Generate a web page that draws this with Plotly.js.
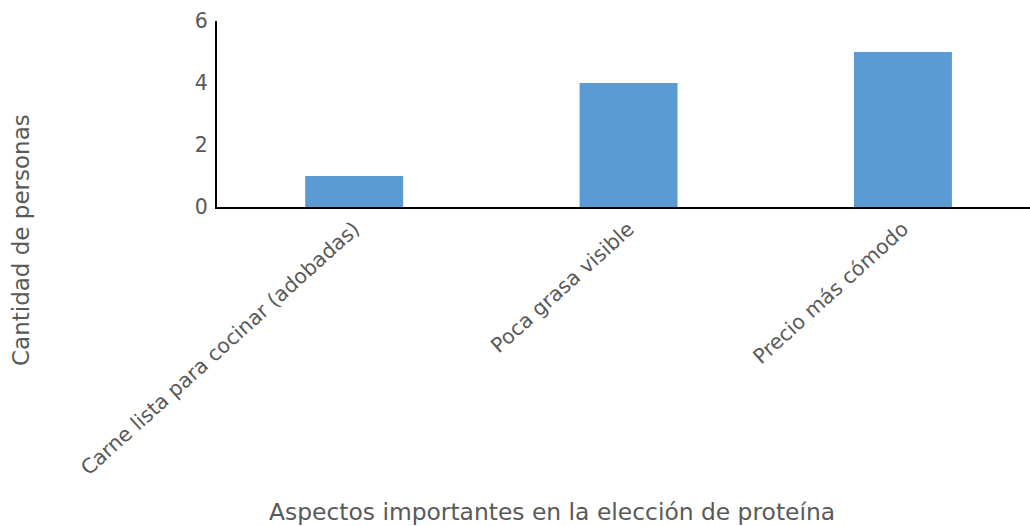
<!DOCTYPE html>
<html>
<head>
<meta charset="utf-8">
<script src="https://cdn.plot.ly/plotly-3.0.1.min.js"></script>
<style>
html,body{margin:0;padding:0;background:#fff;}
#chart{width:1030px;height:526px;}
</style>
</head>
<body>
<div id="chart"></div>
<script>
const categories = ["Carne lista para cocinar (adobadas)", "Poca grasa visible", "Precio más cómodo"];
const personas = [1, 4, 5];
const yTickVals = [0, 2, 4, 6];
const xTitle = "Aspectos importantes en la elección de proteína";
const yTitle = "Cantidad de personas";

const FONT = "DejaVu Sans";
const GREY = "#595959";

const trace = {
  type: "bar",
  x: categories,
  y: personas,
  marker: {color: "#5b9bd5"},
  hoverinfo: "x+y"
};

const layout = {
  width: 1030,
  height: 526,
  margin: {l: 217, r: 0, t: 21, b: 319},
  paper_bgcolor: "#fff",
  plot_bgcolor: "#fff",
  showlegend: false,
  bargap: 0.643,
  font: {family: FONT, color: GREY, size: 20.5},
  xaxis: {
    type: "category",
    range: [-0.5, 2.463],
    showline: true,
    linecolor: "#000",
    linewidth: 2,
    showgrid: false,
    zeroline: false,
    ticks: "",
    tickangle: -42,
    tickfont: {family: FONT, color: GREY, size: 20.5}
  },
  yaxis: {
    range: [0, 6],
    tickvals: yTickVals,
    ticktext: yTickVals.map(String),
    showline: true,
    linecolor: "#000",
    linewidth: 2,
    showgrid: false,
    zeroline: false,
    ticks: "outside",
    ticklen: 3,
    tickcolor: "rgba(0,0,0,0)",
    tickfont: {family: FONT, color: GREY, size: 20.5}
  },
  annotations: [
    {
      text: xTitle,
      xref: "paper", yref: "paper",
      x: (552 - 217) / 813, y: (207 - 512) / 186,
      xanchor: "center", yanchor: "middle",
      showarrow: false,
      font: {family: FONT, color: GREY, size: 23.4}
    },
    {
      text: yTitle,
      xref: "paper", yref: "paper",
      x: (21 - 217) / 813, y: (207 - 240) / 186,
      xanchor: "center", yanchor: "middle",
      textangle: -90,
      showarrow: false,
      font: {family: FONT, color: GREY, size: 23}
    }
  ]
};

Plotly.newPlot("chart", [trace], layout, {displayModeBar: false, staticPlot: true});
</script>
</body>
</html>
